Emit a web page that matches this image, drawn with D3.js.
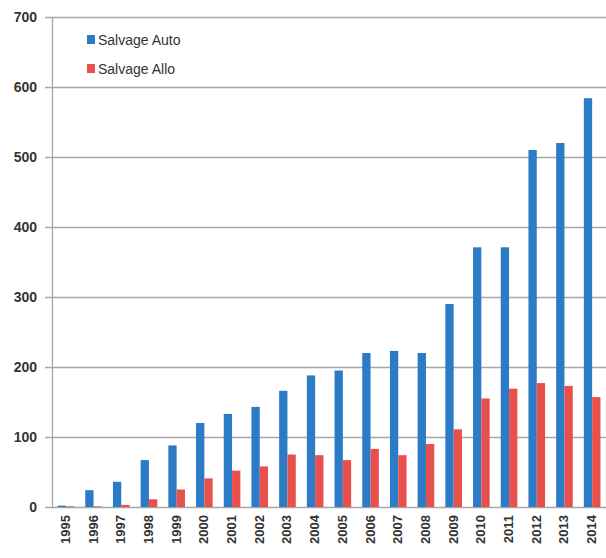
<!DOCTYPE html>
<html>
<head>
<meta charset="utf-8">
<script src="https://cdn.jsdelivr.net/npm/d3@7"></script>
<style>
  body { margin: 0; background: #fff; }
  svg text { font-family: "Liberation Sans", Arial, sans-serif; }
</style>
</head>
<body>
<svg id="chart" width="606" height="558"></svg>
<script>
"use strict";
const years = ["1995","1996","1997","1998","1999","2000","2001","2002","2003","2004",
               "2005","2006","2007","2008","2009","2010","2011","2012","2013","2014"];
const salvageAuto = [2, 24, 36, 67, 88, 120, 133, 143, 166, 188,
                     195, 220, 223, 220, 290, 371, 371, 510, 520, 584];
const salvageAllo = [1, 1, 3, 11, 25, 41, 52, 58, 75, 74,
                     67, 83, 74, 90, 111, 155, 169, 177, 173, 157];
const yTicks = [0, 100, 200, 300, 400, 500, 600, 700];
const seriesNames = ["Salvage Auto", "Salvage Allo"];
const colors = ["#2b7bc6", "#e8504b"];

const margin = { top: 17, right: 0, bottom: 51, left: 52 };
const svg = d3.select("#chart");
const width = +svg.attr("width") - margin.left - margin.right;
const height = +svg.attr("height") - margin.top - margin.bottom;

const x = d3.scaleBand().domain(years).range([0, width]).paddingInner(0).paddingOuter(0);
const x1 = d3.scaleBand().domain([0, 1]).range([x.bandwidth() * 0.2, x.bandwidth() * 0.8]);
const y = d3.scaleLinear().domain([0, 700]).range([height, 0]);

const g = svg.append("g").attr("transform", `translate(${margin.left},${margin.top})`);

// gridlines
g.append("g").selectAll("line")
  .data(yTicks)
  .enter().append("line")
  .attr("x1", -7).attr("x2", width)
  .attr("y1", d => y(d) + 0.5).attr("y2", d => y(d) + 0.5)
  .style("stroke", "#a6a6a6").style("stroke-width", 1.3);

// y axis labels
g.append("g").selectAll("text")
  .data(yTicks)
  .enter().append("text")
  .attr("x", -15).attr("y", d => y(d) + 5)
  .attr("text-anchor", "end")
  .style("font-size", "14px").style("font-weight", "bold").style("fill", "#333")
  .text(d => d);

// y axis line
g.append("line")
  .attr("x1", 0.5).attr("x2", 0.5).attr("y1", 0).attr("y2", height)
  .style("stroke", "#a6a6a6").style("stroke-width", 1.3);

// bars
const series = [salvageAuto, salvageAllo];
series.forEach((vals, i) => {
  g.append("g").selectAll("rect")
    .data(vals)
    .enter().append("rect")
    .attr("x", (d, j) => x(years[j]) + x1(i))
    .attr("y", d => y(d))
    .attr("width", x1.bandwidth())
    .attr("height", d => height - y(d))
    .style("fill", colors[i]);
});

// x labels
g.append("g").selectAll("text")
  .data(years)
  .enter().append("text")
  .attr("transform", d => `translate(${x(d) + x.bandwidth() / 2 + 4},${height + 8}) rotate(-90)`)
  .attr("text-anchor", "end")
  .style("font-size", "13px").style("font-weight", "bold").style("fill", "#333")
  .text(d => d);

// legend
const legend = svg.append("g").attr("transform", "translate(87,35)");
seriesNames.forEach((name, i) => {
  legend.append("rect")
    .attr("x", 0).attr("y", i * 29)
    .attr("width", 8).attr("height", 9)
    .style("fill", colors[i]);
  legend.append("text")
    .attr("x", 11).attr("y", i * 29 + 10)
    .style("font-size", "14px").style("fill", "#333")
    .text(name);
});
</script>
</body>
</html>
